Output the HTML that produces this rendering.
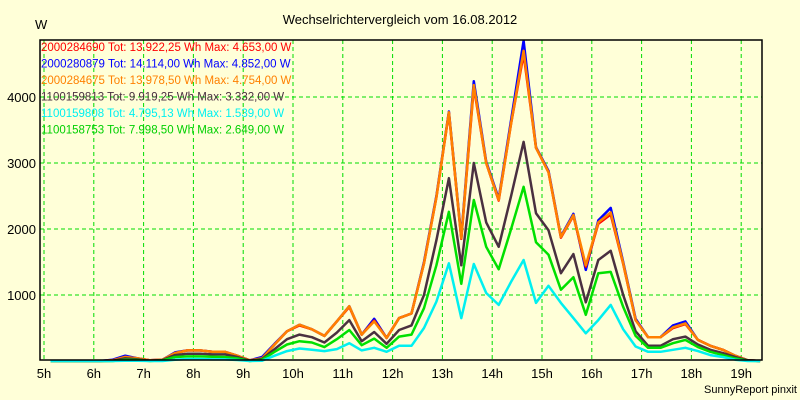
<!DOCTYPE html>
<html><head><meta charset="utf-8"><style>
body{margin:0;background:#ffffd8;}
svg{display:block;font-family:"Liberation Sans",sans-serif;}
</style></head><body>
<svg id="chart" width="800" height="400" xmlns="http://www.w3.org/2000/svg">
<rect width="800" height="400" fill="#ffffd8"/>
<text x="400" y="24" text-anchor="middle" font-size="13">Wechselrichtervergleich vom 16.08.2012</text>
<text x="35" y="29" font-size="13">W</text>
<g id="grid"></g><g id="series"></g><g id="axes"></g><g id="legend"></g>
<text x="797" y="393" text-anchor="end" font-size="11">SunnyReport pinxit</text>
</svg>
<script>
const hourTicks=[5,6,7,8,9,10,11,12,13,14,15,16,17,18,19];
const yTicks=[1000,2000,3000,4000];
const times=[5.13,5.38,5.63,5.88,6.13,6.38,6.63,6.88,7.13,7.38,7.63,7.88,8.13,8.38,8.63,8.88,9.13,9.38,9.63,9.88,10.13,10.38,10.63,10.88,11.13,11.38,11.63,11.88,12.13,12.38,12.63,12.88,13.13,13.38,13.63,13.88,14.13,14.38,14.63,14.88,15.13,15.38,15.63,15.88,16.13,16.38,16.63,16.88,17.13,17.38,17.63,17.88,18.13,18.38,18.63,18.88,19.13,19.38];
const valsOrange=[0,0,0,0,0,10,60,40,10,20,120,160,160,140,140,80,10,40,250,450,550,480,380,600,830,400,600,350,650,720,1480,2480,3770,1860,4180,3000,2440,3600,4700,3230,2860,1880,2210,1450,2100,2250,1480,620,360,360,510,570,320,230,170,80,10,0];
const valsRed=[0,0,0,0,0,10,60,40,10,20,120,160,160,140,140,80,10,40,250,450,540,480,380,600,820,400,610,350,650,720,1480,2480,3760,1850,4150,3000,2430,3600,4650,3230,2860,1870,2200,1430,2080,2220,1470,620,360,360,500,560,320,230,170,80,10,0];
const valsBlue=[0,0,0,0,0,20,80,40,10,20,130,160,160,140,140,80,10,60,260,450,550,480,380,600,830,400,640,350,650,720,1500,2500,3780,1880,4240,3020,2460,3650,4852,3240,2880,1890,2230,1380,2130,2320,1500,640,360,360,540,600,320,230,170,80,10,0];
const valsDark=[0,0,0,0,0,5,40,25,5,15,90,110,110,100,100,60,5,30,180,330,400,360,280,430,620,300,440,260,470,540,1000,1830,2770,1450,3000,2100,1730,2500,3320,2240,1980,1330,1620,890,1530,1670,1000,450,230,230,330,370,250,170,120,60,10,0];
const valsGreen=[0,0,0,0,0,0,20,15,0,10,60,70,70,65,60,40,0,20,140,250,300,280,210,330,470,240,340,200,370,400,800,1450,2260,1170,2440,1730,1390,2000,2640,1800,1610,1080,1270,700,1330,1350,820,380,200,200,270,320,210,140,90,40,5,0];
const valsCyan=[0,0,0,0,0,0,5,5,0,0,20,30,30,25,25,15,0,5,80,150,190,170,150,180,270,160,200,140,230,230,500,900,1480,650,1470,1030,850,1200,1530,880,1140,880,650,420,620,850,480,220,140,140,170,200,150,90,60,20,0,0];
const seriesNames=["2000284690 Tot: 13.922,25 Wh Max: 4.653,00 W","2000280879 Tot: 14.114,00 Wh Max: 4.852,00 W","2000284675 Tot: 13.978,50 Wh Max: 4.754,00 W","1100159813 Tot: 9.919,25 Wh Max: 3.332,00 W","1100159808 Tot: 4.795,13 Wh Max: 1.539,00 W","1100158753 Tot: 7.998,50 Wh Max: 2.649,00 W"];
const NS="http://www.w3.org/2000/svg";
const L=40,R=762,T=40,B=360;
const xs=h=>44+(h-5)*49.8;
const ys=v=>361-v*0.066;
function mk(tag,attrs,parent){const e=document.createElementNS(NS,tag);for(const k in attrs)e.setAttribute(k,attrs[k]);parent.appendChild(e);return e;}
const grid=document.getElementById('grid'),axes=document.getElementById('axes'),ser=document.getElementById('series'),leg=document.getElementById('legend');
hourTicks.forEach(h=>{
 const ln=mk('line',{x1:xs(h),x2:xs(h),y1:T,y2:B,stroke:'#00dd00','stroke-dasharray':'4,3'},grid);
 
 
 const t=mk('text',{x:xs(h),y:378,'text-anchor':'middle','font-size':13},axes);
 t.textContent=h+'h';
 
 
});
yTicks.forEach(v=>{
 const ln=mk('line',{x1:L,x2:R,y1:ys(v),y2:ys(v),stroke:'#00dd00','stroke-dasharray':'4,3'},grid);
 
 
 const t=mk('text',{x:36,y:ys(v)+5,'text-anchor':'end','font-size':13},axes);
 t.textContent=v;
 
 
});
const frame=mk('rect',{x:L,y:T,width:R-L,height:B-T,fill:'none',stroke:'#000','stroke-width':1.5},axes);


const drawOrder=[[valsBlue,'#0000ff','series-2000280879'],[valsRed,'#ff0000','series-2000284690'],[valsOrange,'#ff8000','series-2000284675'],[valsDark,'#4a3040','series-1100159813'],[valsGreen,'#00e000','series-1100158753'],[valsCyan,'#00f0f0','series-1100159808']];
drawOrder.forEach(([vals,col,name])=>{
 const p=mk('polyline',{points:vals.map((v,i)=>xs(times[i]).toFixed(1)+','+ys(v).toFixed(1)).join(' '),fill:'none',stroke:col,'stroke-width':2.5,'stroke-linejoin':'round'},ser);
 
 
});
const legCols=['#ff0000','#0000ff','#ff8000','#4a3040','#00f0f0','#00d000'];
seriesNames.forEach((s,i)=>{
 const t=mk('text',{x:41,y:51+i*16.5,'font-size':11.5,fill:legCols[i]},leg);
 t.textContent=s;
 
 
});
</script>
</body></html>
